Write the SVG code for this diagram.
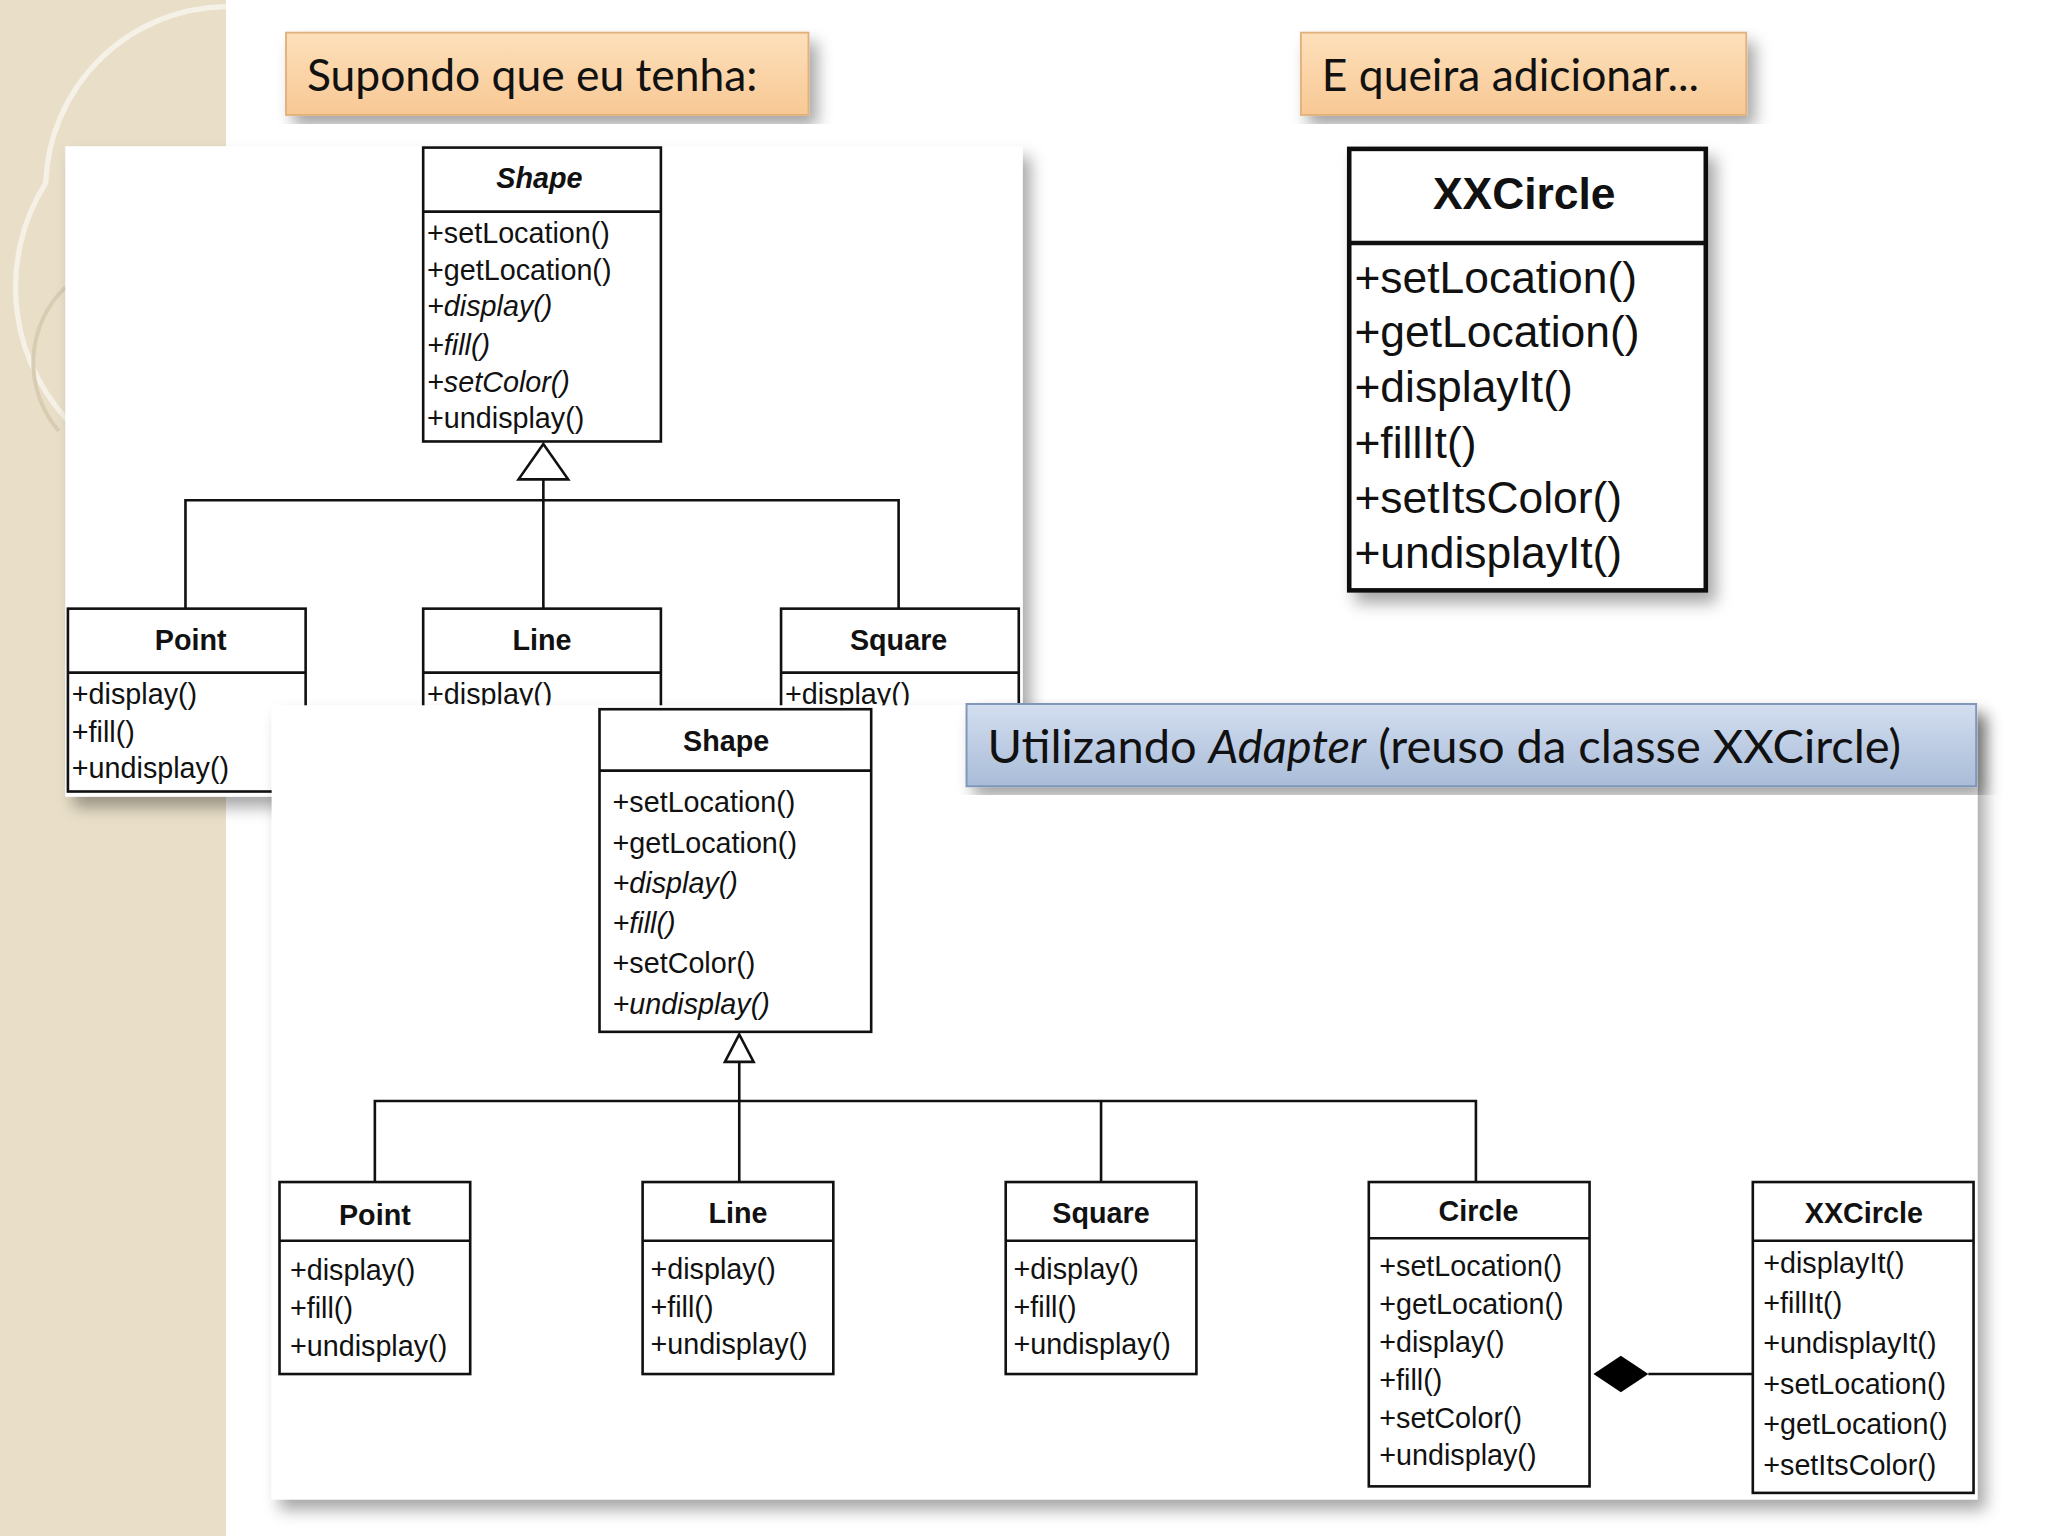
<svg xmlns="http://www.w3.org/2000/svg" width="2048" height="1536" viewBox="0 0 2048 1536">
<defs>
<linearGradient id="og" x1="0" y1="0" x2="0" y2="1"><stop offset="0" stop-color="#fde0bb"/><stop offset="1" stop-color="#f8c894"/></linearGradient>
<linearGradient id="bg" x1="0" y1="0" x2="0" y2="1"><stop offset="0" stop-color="#d3def0"/><stop offset="1" stop-color="#a9bcd8"/></linearGradient>
<filter id="sh" x="-5%" y="-5%" width="115%" height="115%"><feDropShadow dx="6" dy="8" stdDeviation="6" flood-color="#000" flood-opacity="0.35"/></filter>
<style>
.b{fill:#fff;stroke:#111;stroke-width:2}
.l{fill:none;stroke:#111;stroke-width:2}
.t{font-family:"Liberation Sans",Arial,sans-serif;fill:#111}
.h{font-family:"Lato","Open Sans",sans-serif;fill:#111}
.m{font-size:22px}
.bt{font-weight:bold;font-size:22px;text-anchor:middle}
.i{font-style:italic}
</style>
</defs>
<g transform="scale(1.30612)">
<rect x="0" y="0" width="1568" height="1176" fill="#fff"/>
<rect x="0" y="0" width="173" height="1176" fill="#e9dfc9"/>
<path d="M173,5 A140,140 0 0 0 35,140 A150,150 0 0 0 60,330" fill="none" stroke="#f6f1e6" stroke-width="4"/>
<path d="M50,220 A80,80 0 0 0 45,330" fill="none" stroke="#d8ccb2" stroke-width="3"/>

<g id="label1"><rect x="219" y="25" width="400" height="63" fill="url(#og)" stroke="#e2b27e" stroke-width="1.5" filter="url(#sh)"/>
<text class="h" x="235" y="70" font-size="34">Supondo que eu tenha:</text></g>
<g id="label2"><rect x="996" y="25" width="341" height="63" fill="url(#og)" stroke="#e2b27e" stroke-width="1.5" filter="url(#sh)"/>
<text class="h" x="1012" y="70" font-size="34">E queira adicionar...</text></g>

<g id="panel1"><rect x="50" y="112" width="733" height="498" fill="#fff" filter="url(#sh)"/></g>
<g id="connectors1">
<polygon points="416,340 397,367 435,367" class="b"/>
<polyline points="416,367 416,466" class="l"/>
<polyline points="142,466 142,383 688,383 688,466" class="l"/>
</g>
<g id="shape1"><rect x="324" y="113" width="182" height="225" class="b"/><line x1="324" y1="162" x2="506" y2="162" class="l"/>
<text class="t bt i" x="413" y="144" font-size="25">Shape</text>
<text class="t m" x="327" y="186">+setLocation()</text>
<text class="t m" x="327" y="214">+getLocation()</text>
<text class="t m i" x="327" y="242">+display()</text>
<text class="t m i" x="327" y="272">+fill()</text>
<text class="t m i" x="327" y="300">+setColor()</text>
<text class="t m" x="327" y="328">+undisplay()</text></g>
<g id="point1"><rect x="52" y="466" width="182" height="140" class="b"/><line x1="52" y1="515" x2="234" y2="515" class="l"/>
<text class="t bt" x="146" y="498" font-size="24">Point</text>
<text class="t m" x="55" y="539">+display()</text>
<text class="t m" x="55" y="568">+fill()</text>
<text class="t m" x="55" y="596">+undisplay()</text></g>
<g id="line1"><rect x="324" y="466" width="182" height="100" class="b"/><line x1="324" y1="515" x2="506" y2="515" class="l"/>
<text class="t bt" x="415" y="498">Line</text>
<text class="t m" x="327" y="539">+display()</text></g>
<g id="square1"><rect x="598" y="466" width="182" height="100" class="b"/><line x1="598" y1="515" x2="780" y2="515" class="l"/>
<text class="t bt" x="688" y="498">Square</text>
<text class="t m" x="601" y="539">+display()</text></g>

<g id="xxcircle1"><rect x="1033" y="114" width="273" height="338" fill="#fff" stroke="#111" stroke-width="3.5" filter="url(#sh)"/><line x1="1033" y1="186" x2="1306" y2="186" stroke="#111" stroke-width="3.5"/>
<text class="t" x="1167" y="160" font-size="34" font-weight="bold" text-anchor="middle">XXCircle</text>
<text class="t" x="1037" y="224" font-size="34">+setLocation()</text>
<text class="t" x="1037" y="266" font-size="34">+getLocation()</text>
<text class="t" x="1037" y="308" font-size="34">+displayIt()</text>
<text class="t" x="1037" y="351" font-size="34">+fillIt()</text>
<text class="t" x="1037" y="393" font-size="34">+setItsColor()</text>
<text class="t" x="1037" y="435" font-size="34">+undisplayIt()</text></g>

<g id="panel2"><rect x="208" y="540" width="1306" height="608" fill="#fff" filter="url(#sh)"/></g>
<g id="label3"><rect x="740" y="539" width="773" height="63" fill="url(#bg)" stroke="#7f96b8" stroke-width="1.5" filter="url(#sh)"/>
<text class="h" x="756" y="584" font-size="36">Utilizando <tspan font-style="italic">Adapter</tspan> (reuso da classe XXCircle)</text></g>

<g id="connectors2">
<polygon points="566,792 555,813 577,813" class="b"/>
<polyline points="566,813 566,905" class="l"/>
<polyline points="287,905 287,843 1130,843 1130,905" class="l"/>
<line x1="843" y1="843" x2="843" y2="905" class="l"/>
<polygon points="1220,1052 1241,1038 1262,1052 1241,1066" fill="#000"/>
<line x1="1262" y1="1052" x2="1342" y2="1052" class="l"/>
</g>
<g id="shape2"><rect x="459" y="543" width="208" height="247" class="b"/><line x1="459" y1="590" x2="667" y2="590" class="l"/>
<text class="t bt" x="556" y="575">Shape</text>
<text class="t m" x="469" y="622">+setLocation()</text>
<text class="t m" x="469" y="653">+getLocation()</text>
<text class="t m i" x="469" y="684">+display()</text>
<text class="t m i" x="469" y="714">+fill()</text>
<text class="t m" x="469" y="745">+setColor()</text>
<text class="t m i" x="469" y="776">+undisplay()</text></g>
<g id="point2"><rect x="214" y="905" width="146" height="147" class="b"/><line x1="214" y1="950" x2="360" y2="950" class="l"/>
<text class="t bt" x="287" y="938">Point</text>
<text class="t m" x="222" y="980">+display()</text>
<text class="t m" x="222" y="1009">+fill()</text>
<text class="t m" x="222" y="1038">+undisplay()</text></g>
<g id="line2"><rect x="492" y="905" width="146" height="147" class="b"/><line x1="492" y1="950" x2="638" y2="950" class="l"/>
<text class="t bt" x="565" y="936">Line</text>
<text class="t m" x="498" y="979">+display()</text>
<text class="t m" x="498" y="1008">+fill()</text>
<text class="t m" x="498" y="1037">+undisplay()</text></g>
<g id="square2"><rect x="770" y="905" width="146" height="147" class="b"/><line x1="770" y1="950" x2="916" y2="950" class="l"/>
<text class="t bt" x="843" y="936">Square</text>
<text class="t m" x="776" y="979">+display()</text>
<text class="t m" x="776" y="1008">+fill()</text>
<text class="t m" x="776" y="1037">+undisplay()</text></g>
<g id="circle2"><rect x="1048" y="905" width="169" height="233" class="b"/><line x1="1048" y1="948" x2="1217" y2="948" class="l"/>
<text class="t bt" x="1132" y="935">Circle</text>
<text class="t m" x="1056" y="977">+setLocation()</text>
<text class="t m" x="1056" y="1006">+getLocation()</text>
<text class="t m" x="1056" y="1035">+display()</text>
<text class="t m" x="1056" y="1064">+fill()</text>
<text class="t m" x="1056" y="1093">+setColor()</text>
<text class="t m" x="1056" y="1122">+undisplay()</text></g>
<g id="xxcircle2"><rect x="1342" y="905" width="169" height="238" class="b"/><line x1="1342" y1="950" x2="1511" y2="950" class="l"/>
<text class="t bt" x="1427" y="936">XXCircle</text>
<text class="t m" x="1350" y="975">+displayIt()</text>
<text class="t m" x="1350" y="1005">+fillIt()</text>
<text class="t m" x="1350" y="1036">+undisplayIt()</text>
<text class="t m" x="1350" y="1067">+setLocation()</text>
<text class="t m" x="1350" y="1098">+getLocation()</text>
<text class="t m" x="1350" y="1129">+setItsColor()</text></g>
</g>
</svg>
